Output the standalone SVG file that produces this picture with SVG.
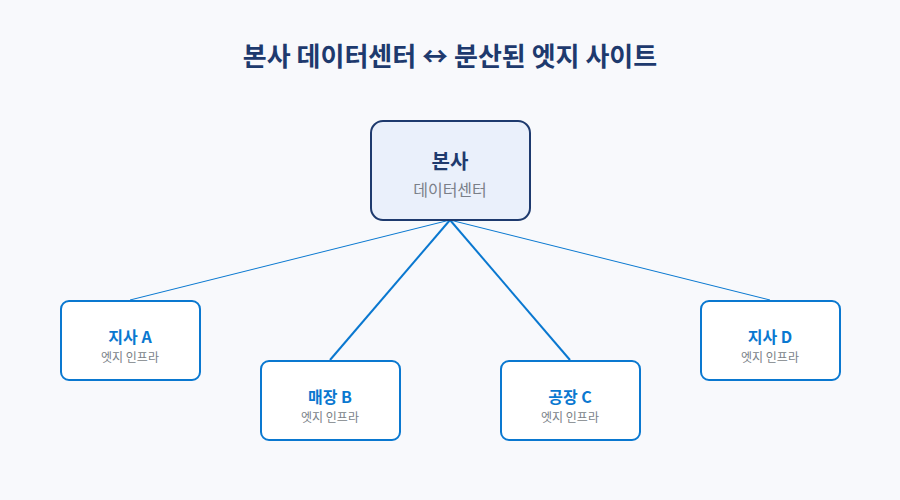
<svg xmlns="http://www.w3.org/2000/svg" width="900" height="500" viewBox="0 0 900 500">
<style>
text{font-family:"Noto Sans CJK KR","Noto Sans",sans-serif;text-anchor:middle}
.title{font-size:26px;font-weight:700;fill:#1e3a6e}
.hq{fill:#eaf0fb;stroke:#1e3a6e;stroke-width:2}
.hqt{font-size:20px;font-weight:700;fill:#1e3a6e}
.hqs{font-size:16px;fill:#7a7f88}
.edge{fill:#ffffff;stroke:#0a78d0;stroke-width:2}
.et{font-size:16px;font-weight:700;fill:#0a78d0}
.es{font-size:12px;fill:#7a7f88}
.c{stroke:#0a78d0;fill:none}
</style>
<rect width="900" height="500" fill="#f8f9fc"/>
<text class="title" x="450" y="66">본사 데이터센터 ↔ 분산된 엣지 사이트</text>
<g id="connectors">
<line class="c" x1="450" y1="220" x2="130" y2="300" stroke-width="1"/>
<line class="c" x1="450" y1="220" x2="330" y2="360" stroke-width="2"/>
<line class="c" x1="450" y1="220" x2="570" y2="360" stroke-width="2"/>
<line class="c" x1="450" y1="220" x2="770" y2="300" stroke-width="1"/>
</g>
<g id="hq">
<rect class="hq" x="371" y="121" width="159" height="99" rx="12"/>
<text class="hqt" x="450" y="169">본사</text>
<text class="hqs" x="450" y="196">데이터센터</text>
</g>
<g id="siteA">
<rect class="edge" x="61" y="301" width="139" height="79" rx="8"/>
<text class="et" x="130" y="343">지사 A</text>
<text class="es" x="130" y="362">엣지 인프라</text>
</g>
<g id="siteB">
<rect class="edge" x="261" y="361" width="139" height="79" rx="8"/>
<text class="et" x="330" y="403">매장 B</text>
<text class="es" x="330" y="422">엣지 인프라</text>
</g>
<g id="siteC">
<rect class="edge" x="501" y="361" width="139" height="79" rx="8"/>
<text class="et" x="570" y="403">공장 C</text>
<text class="es" x="570" y="422">엣지 인프라</text>
</g>
<g id="siteD">
<rect class="edge" x="701" y="301" width="139" height="79" rx="8"/>
<text class="et" x="770" y="343">지사 D</text>
<text class="es" x="770" y="362">엣지 인프라</text>
</g>
</svg>
